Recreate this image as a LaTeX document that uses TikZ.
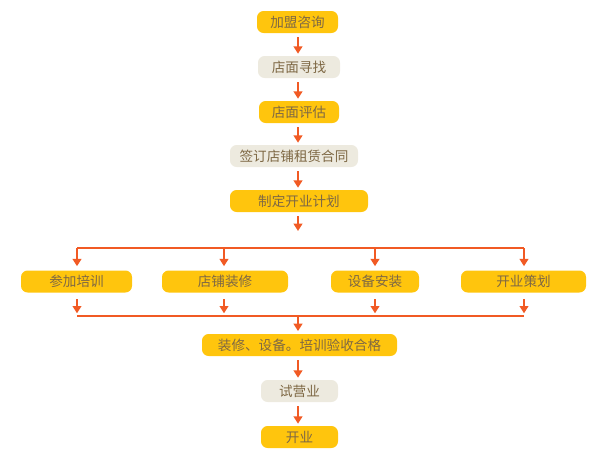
\documentclass[tikz,border=0pt]{standalone}
\usepackage{fontspec}
\setmainfont{Noto Sans CJK SC}
\usetikzlibrary{arrows.meta}
\definecolor{ylw}{HTML}{FFC50D}
\definecolor{bge}{HTML}{EDEADF}
\definecolor{arr}{HTML}{F15A24}
\definecolor{txt}{HTML}{7E6844}
\tikzset{
  box/.style={rounded corners=5pt, minimum height=22*0.75pt, inner sep=0pt, text=txt, font=\fontsize{10.2pt}{12pt}\selectfont, anchor=center},
  yb/.style={box, fill=ylw},
  bb/.style={box, fill=bge},
  arrowline/.style={draw=arr, line width=1.7pt, -{Triangle[width=6.5pt,length=5.5pt]}},
  busline/.style={draw=arr, line width=1.3pt},
}
\begin{document}
\begin{tikzpicture}[x=0.75pt,y=-0.75pt]
\useasboundingbox (0,0) rectangle (600,464);
\node[yb, minimum width=81*0.75pt] (n1) at (297.5,22) {加盟咨询};
\node[bb, minimum width=82*0.75pt] (n2) at (299,67) {店面寻找};
\node[yb, minimum width=80*0.75pt] (n3) at (299,112) {店面评估};
\node[bb, minimum width=128*0.75pt] (n4) at (294,156) {签订店铺租赁合同};
\node[yb, minimum width=138*0.75pt] (n5) at (299,201) {制定开业计划};
\node[yb, minimum width=111*0.75pt] (r1) at (76.5,281.5) {参加培训};
\node[yb, minimum width=126*0.75pt] (r2) at (225,281.5) {店铺装修};
\node[yb, minimum width=88*0.75pt] (r3) at (375,281.5) {设备安装};
\node[yb, minimum width=125*0.75pt] (r4) at (523.5,281.5) {开业策划};
\node[yb, minimum width=195*0.75pt] (n6) at (299.5,345) {装修、设备。培训验收合格};
\node[bb, minimum width=77*0.75pt] (n7) at (299.5,391) {试营业};
\node[yb, minimum width=77*0.75pt] (n8) at (299.5,437) {开业};
\coordinate (ax) at (298,0);
\coordinate (c5) at (298,231);
\coordinate (tl) at (77,248);
\coordinate (tr) at (524,248);
\coordinate (t1) at (77,248);
\coordinate (t2) at (224,248);
\coordinate (t3) at (375,248);
\coordinate (t4) at (524,248);
\coordinate (bl) at (77,316);
\coordinate (br) at (524,316);
\coordinate (b1) at (77,316);
\coordinate (b2) at (224,316);
\coordinate (b3) at (375,316);
\coordinate (b4) at (524,316);
\coordinate (bm) at (298,316);
\draw[arrowline, shorten <=3pt, shorten >=1.5pt] (n1.south -| ax) -- (n2.north -| ax);
\draw[arrowline, shorten <=3pt, shorten >=1.5pt] (n2.south -| ax) -- (n3.north -| ax);
\draw[arrowline, shorten <=3pt, shorten >=1.5pt] (n3.south -| ax) -- (n4.north -| ax);
\draw[arrowline, shorten <=3pt, shorten >=1.5pt] (n4.south -| ax) -- (n5.north -| ax);
\draw[arrowline, shorten <=3pt] (n5.south -| ax) -- (c5);
\draw[busline] (tl) -- (tr);
\draw[arrowline, shorten >=3pt] (t1) -- (r1.north -| t1);
\draw[arrowline, shorten >=3pt] (t2) -- (r2.north -| t2);
\draw[arrowline, shorten >=3pt] (t3) -- (r3.north -| t3);
\draw[arrowline, shorten >=3pt] (t4) -- (r4.north -| t4);
\draw[arrowline, shorten <=5pt, shorten >=2pt] (r1.south -| b1) -- (b1);
\draw[arrowline, shorten <=5pt, shorten >=2pt] (r2.south -| b2) -- (b2);
\draw[arrowline, shorten <=5pt, shorten >=2pt] (r3.south -| b3) -- (b3);
\draw[arrowline, shorten <=5pt, shorten >=2pt] (r4.south -| b4) -- (b4);
\draw[busline] (bl) -- (br);
\draw[arrowline, shorten >=2pt] (bm) -- (n6.north -| bm);
\draw[arrowline, shorten <=3pt, shorten >=1.5pt] (n6.south -| ax) -- (n7.north -| ax);
\draw[arrowline, shorten <=3pt, shorten >=1.5pt] (n7.south -| ax) -- (n8.north -| ax);
\end{tikzpicture}
\end{document}
